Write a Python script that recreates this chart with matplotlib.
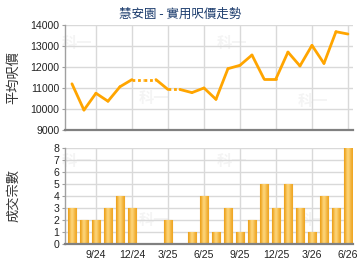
import numpy as np
import matplotlib
matplotlib.use("Agg")
import matplotlib.pyplot as plt
from matplotlib.colors import LinearSegmentedColormap

months = ["7/24","8/24","9/24","10/24","11/24","12/24","1/25","2/25","3/25","4/25","5/25","6/25",
          "7/25","8/25","9/25","10/25","11/25","12/25","1/26","2/26","3/26","4/26","5/26","6/26"]
price = [11200, 9950, 10750, 10370, 11060, 11400, None, None, 10930, None, 10780, 11000,
         10460, 11920, 12080, 12570, 11440, 11440, 12710, 12050, 13030, 12170, 13680, 13570]
deals = [3, 2, 2, 3, 4, 3, 0, 0, 2, 0, 1, 4, 1, 3, 1, 2, 5, 3, 5, 3, 1, 4, 3, 8]
tick_labels = ["9/24", "12/24", "3/25", "6/25", "9/25", "12/25", "3/26", "6/26"]
title = "慧安園 - 實用呎價走勢"
ylabel_top = "平均呎價"
ylabel_bot = "成交宗數"

plt.rcParams['font.family'] = ['Liberation Sans', 'Noto Sans CJK TC', 'DejaVu Sans']
cjk = ['Noto Sans CJK TC', 'DejaVu Sans']

W, H = 360, 270
fig = plt.figure(figsize=(W/100, H/100), dpi=100)

x = np.arange(len(months))
tick_pos = [months.index(t) for t in tick_labels]
xlim = (-0.58, 23.42)

def axbox(l, t, r, b):
    return [l/W, 1 - b/H, (r - l)/W, (b - t)/H]

ax1 = fig.add_axes(axbox(65, 25, 353, 130))
ax2 = fig.add_axes(axbox(65, 148, 353, 244))

for ax in (ax1, ax2):
    ax.set_xlim(*xlim)
    ax.set_xticks(tick_pos)
    ax.grid(True, color='#d9d9d9', lw=1)
    ax.set_axisbelow(True)
    for s in ('top', 'right'):
        ax.spines[s].set_visible(False)
    ax.spines['left'].set_color('#a0a0a0')
    ax.spines['left'].set_linewidth(1)
    ax.spines['bottom'].set_color('#808080')
    ax.spines['bottom'].set_linewidth(1.6)
    ax.tick_params(axis='both', length=2, color='#a0a0a0', labelsize=7.6, labelcolor='#222222', pad=2)
    ax.tick_params(axis='x', length=0)

# --- price line ---
ax1.set_ylim(9000, 14000)
ax1.set_yticks(range(9000, 14001, 1000))
ax1.set_xticklabels([])
vals = []
last = None
filled = []
for v in price:
    if v is None:
        vals.append(last); filled.append(True)
    else:
        vals.append(v); last = v; filled.append(False)
for i in range(len(vals) - 1):
    dotted = filled[i + 1]
    ax1.plot(x[i:i+2], vals[i:i+2], color='#ffa500', lw=2,
             ls=(0, (1, 1)) if dotted else '-', solid_capstyle='round',
             dash_capstyle='butt', zorder=3)
ax1.set_ylabel(ylabel_top, family=cjk, fontsize=9.5, color='#333333')

# --- deals bars ---
ax2.set_ylim(0, 8)
ax2.set_yticks(range(0, 9))
ax2.set_xticklabels(tick_labels)
ax2.tick_params(axis='x', pad=4)
bars = ax2.bar(x, deals, width=0.7, color='#f7b43a', edgecolor='#eea015', lw=0.8, zorder=2)
grad = np.array([[0.0, 0.35, 0.75, 1.0, 0.85, 0.55, 0.3, 0.1]])
cmap = LinearSegmentedColormap.from_list('o', ['#eda21c', '#fdd57a'])
for b in bars:
    if b.get_height() <= 0:
        continue
    x0, w, h = b.get_x(), b.get_width(), b.get_height()
    im = ax2.imshow(grad, extent=[x0, x0 + w, 0, h], aspect='auto', cmap=cmap,
                    vmin=0, vmax=1, zorder=2.5, interpolation='bicubic')
    im.set_clip_path(b)
ax2.set_xlim(*xlim)
ax2.set_ylim(0, 8)
ax2.set_ylabel(ylabel_bot, family=cjk, fontsize=9.5, color='#333333')

# align y labels
ax1.yaxis.set_label_coords(-0.155, 0.5)
ax2.yaxis.set_label_coords(-0.155, 0.5)

# watermark
wm = [(ax1, 0.04, 0.83), (ax1, 0.58, 0.83), (ax1, 0.31, 0.30), (ax1, 0.86, 0.28),
      (ax2, 0.04, 0.86), (ax2, 0.58, 0.86), (ax2, 0.31, 0.25), (ax2, 0.86, 0.25)]
for a, wx, wy in wm:
    a.text(wx, wy, "科一", transform=a.transAxes, family=cjk, fontsize=11,
           fontweight='bold', color='#f4f4f4', ha='center', va='center', zorder=0.5)

fig.text(0.5, 1 - 14/H, title, family=cjk, fontsize=9, color='#1d3d6e',
         ha='center', va='center')

fig.savefig('out.png', dpi=100)
